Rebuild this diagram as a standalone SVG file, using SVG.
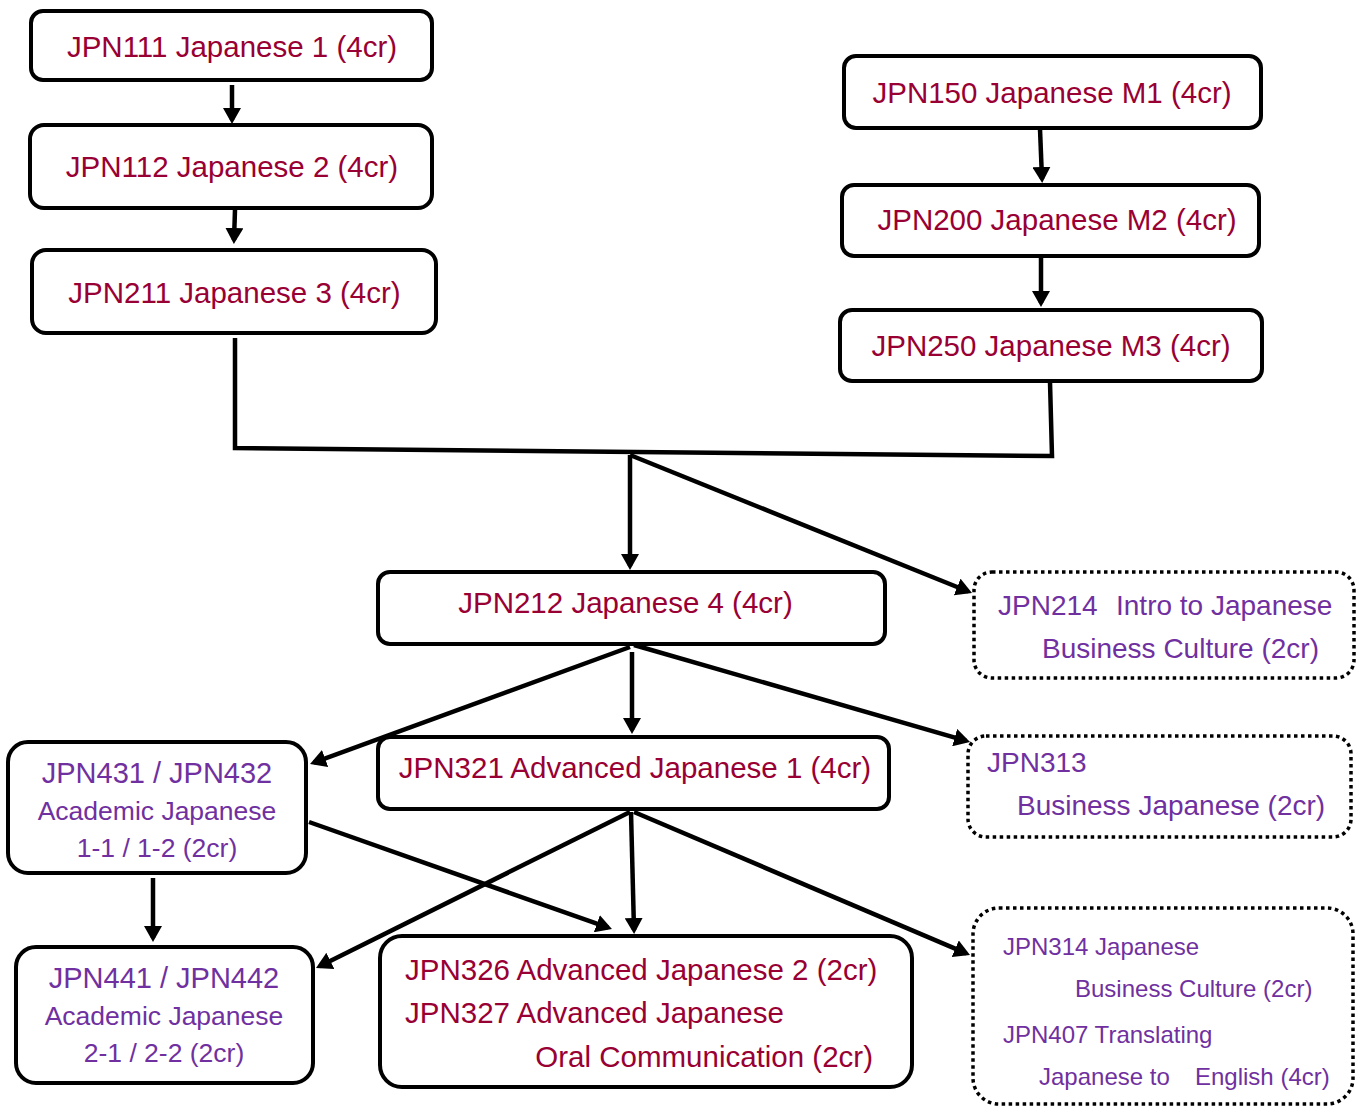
<svg xmlns="http://www.w3.org/2000/svg" width="1359" height="1106" viewBox="0 0 1359 1106">
<style>
.box{fill:#fff;stroke:#000;stroke-width:4}
.dot{fill:#fff;stroke:#000;stroke-width:3.5;stroke-dasharray:3.5 3.5}
.t{font-family:"Liberation Sans",Arial,sans-serif;font-size:29.5px;fill:#990033}
.p{font-family:"Liberation Sans",Arial,sans-serif;font-size:28px;fill:#7030A0}
.ps{font-family:"Liberation Sans",Arial,sans-serif;font-size:26.5px;fill:#7030A0}
.pt{font-family:"Liberation Sans",Arial,sans-serif;font-size:24px;fill:#7030A0}
.c{text-anchor:middle}
.ln{fill:none;stroke:#000;stroke-width:4.5}
.ar{fill:none;stroke:#000;stroke-width:4.5;marker-end:url(#ah)}
</style>
<defs>
<marker id="ah" viewBox="0 0 16 18" refX="12" refY="9" markerWidth="16" markerHeight="18" markerUnits="userSpaceOnUse" orient="auto">
<path d="M0,0 L16,9 L0,18 z" fill="#000"/>
</marker>
</defs>
<rect width="1359" height="1106" fill="#fff"/>
<g id="connectors">
<line class="ar" x1="232" y1="85" x2="232" y2="120"/>
<line class="ar" x1="235" y1="210" x2="234" y2="240"/>
<line class="ar" x1="1040" y1="129" x2="1042" y2="179"/>
<line class="ar" x1="1041" y1="258" x2="1041" y2="303"/>
<path class="ln" d="M235,338 V448 L1052,456 L1050,382"/>
<line class="ar" x1="630" y1="455" x2="630" y2="566"/>
<line class="ar" x1="630" y1="455" x2="968.3" y2="591.5"/>
<line class="ar" x1="630" y1="647" x2="313.8" y2="762.6"/>
<line class="ar" x1="632" y1="652" x2="632" y2="730"/>
<line class="ar" x1="634" y1="645" x2="966.2" y2="740.9"/>
<line class="ar" x1="630" y1="812" x2="319.6" y2="966.2"/>
<line class="ar" x1="631" y1="812" x2="634" y2="930"/>
<line class="ar" x1="634" y1="812" x2="966.3" y2="953.4"/>
<line class="ar" x1="309" y1="822" x2="608.2" y2="927.7"/>
<line class="ar" x1="153" y1="878" x2="153" y2="938"/>
</g>
<g id="jpn111"><rect class="box" x="31" y="11" width="401" height="69" rx="12"/><text class="t c" x="232" y="57">JPN111 Japanese 1 (4cr)</text></g>
<g id="jpn112"><rect class="box" x="30" y="125" width="402" height="83" rx="14"/><text class="t c" x="232" y="177">JPN112 Japanese 2 (4cr)</text></g>
<g id="jpn211"><rect class="box" x="32" y="250" width="404" height="83" rx="14"/><text class="t c" x="234.5" y="303">JPN211 Japanese 3 (4cr)</text></g>
<g id="jpn150"><rect class="box" x="844" y="56" width="417" height="72" rx="12"/><text class="t c" x="1052" y="103">JPN150 Japanese M1 (4cr)</text></g>
<g id="jpn200"><rect class="box" x="842" y="185" width="417" height="71" rx="12"/><text class="t c" x="1057" y="230">JPN200 Japanese M2 (4cr)</text></g>
<g id="jpn250"><rect class="box" x="840" y="310" width="422" height="71" rx="12"/><text class="t c" x="1051" y="356">JPN250 Japanese M3 (4cr)</text></g>
<g id="jpn212"><rect class="box" x="378" y="572" width="507" height="72" rx="12"/><text class="t c" x="625.5" y="613">JPN212 Japanese 4 (4cr)</text></g>
<g id="jpn321"><rect class="box" x="378" y="737" width="511" height="72" rx="12"/><text class="t c" x="635" y="778">JPN321 Advanced Japanese 1 (4cr)</text></g>
<g id="jpn326"><rect class="box" x="380" y="936" width="532" height="151" rx="22"/>
<text class="t" x="405" y="980">JPN326 Advanced Japanese 2 (2cr)</text>
<text class="t" x="405" y="1023">JPN327 Advanced Japanese</text>
<text class="t" x="873" y="1067" text-anchor="end">Oral Communication (2cr)</text></g>
<g id="jpn431"><rect class="box" x="8" y="742" width="298" height="131" rx="20"/>
<text class="p c" x="157" y="783" style="font-size:29px">JPN431 / JPN432</text>
<text class="ps c" x="157" y="820">Academic Japanese</text>
<text class="ps c" x="157" y="857">1-1 / 1-2 (2cr)</text></g>
<g id="jpn441"><rect class="box" x="16" y="947" width="297" height="136" rx="20"/>
<text class="p c" x="164" y="988" style="font-size:29px">JPN441 / JPN442</text>
<text class="ps c" x="164" y="1025">Academic Japanese</text>
<text class="ps c" x="164" y="1062">2-1 / 2-2 (2cr)</text></g>
<g id="jpn214"><rect class="dot" x="974" y="572" width="380" height="106" rx="18"/>
<text class="p" x="998" y="615">JPN214<tspan x="1116">Intro to Japanese</tspan></text>
<text class="p" x="1042" y="658">Business Culture (2cr)</text></g>
<g id="jpn313"><rect class="dot" x="968" y="736" width="383" height="101" rx="18"/>
<text class="p" x="987" y="772">JPN313</text>
<text class="p" x="1017" y="815">Business Japanese (2cr)</text></g>
<g id="jpn314"><rect class="dot" x="973" y="908" width="380" height="196" rx="26"/>
<text class="pt" x="1003" y="955">JPN314 Japanese</text>
<text class="pt" x="1075" y="997">Business Culture (2cr)</text>
<text class="pt" x="1003" y="1043">JPN407 Translating</text>
<text class="pt" x="1039" y="1085">Japanese to<tspan x="1195">English (4cr)</tspan></text></g>
</svg>
